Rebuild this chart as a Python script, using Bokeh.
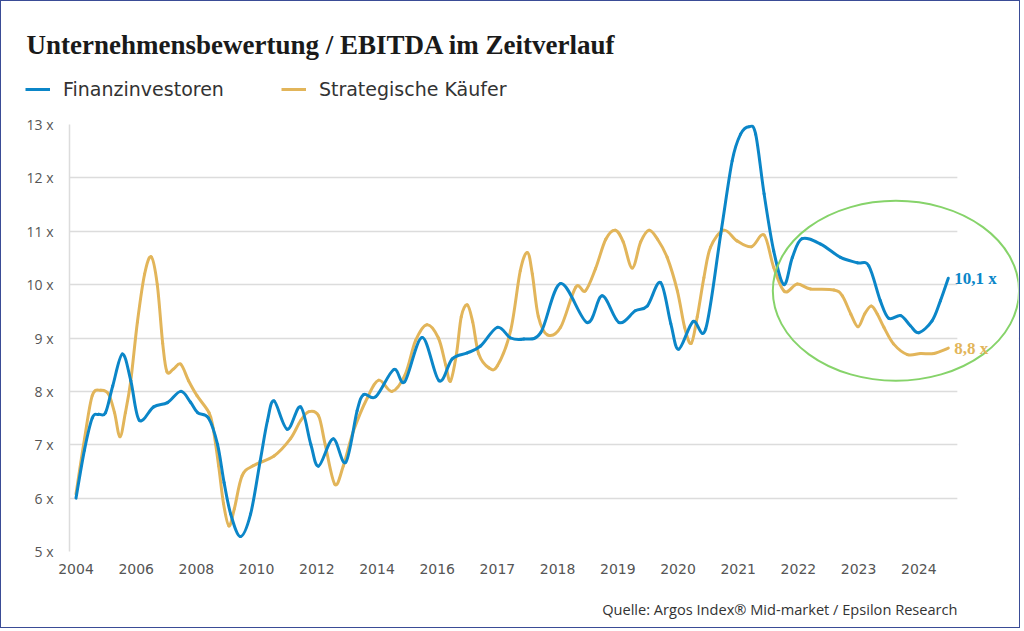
import numpy as np
from bokeh.plotting import figure
from bokeh.layouts import column
from bokeh.models import FixedTicker, Label, Legend, LegendItem, BoxAnnotation, Range1d
from bokeh.embed import file_html
from bokeh.resources import INLINE

# ---------------- data ----------------
tick_labels = ["2004", "2006", "2008", "2010", "2012", "2014", "2016", "2017",
               "2018", "2019", "2020", "2021", "2022", "2023", "2024"]
y_ticks = [5, 6, 7, 8, 9, 10, 11, 12, 13]

# x = position along the period axis (0 = 2004 label, 14 = 2024 label)
fin_x = [0.0, 0.14, 0.27, 0.37, 0.49, 0.61, 0.77, 0.91, 1.05, 1.29, 1.52, 1.74, 1.90, 2.02,
         2.20, 2.35, 2.46, 2.57, 2.73, 2.90, 3.06, 3.18, 3.29, 3.51, 3.73, 3.90, 4.03, 4.27,
         4.48, 4.67, 4.78, 4.98, 5.28, 5.46, 5.75, 6.03, 6.25, 6.50, 6.72, 7.00, 7.22, 7.44,
         7.72, 8.05, 8.49, 8.74, 9.02, 9.29, 9.49, 9.71, 9.88, 10.01, 10.25, 10.46, 10.71,
         10.90, 11.04, 11.18, 11.29, 11.43, 11.59, 11.76, 11.90, 12.06, 12.37,
         12.70, 12.98, 13.17, 13.36, 13.50, 13.70, 13.86, 14.00, 14.22, 14.36, 14.49]
fin_y = [6.0, 6.9, 7.5, 7.57, 7.6, 8.1, 8.7, 8.2, 7.46, 7.71, 7.79, 8.0, 7.8, 7.6,
         7.5, 7.01, 6.29, 5.7, 5.28, 5.7, 6.7, 7.45, 7.82, 7.29, 7.71, 7.01, 6.6, 7.11,
         6.67, 7.64, 7.94, 7.9, 8.41, 8.18, 9.01, 8.2, 8.61, 8.72, 8.85, 9.2, 9.0, 8.98,
         9.1, 10.02, 9.29, 9.79, 9.29, 9.51, 9.6, 10.04, 9.27, 8.79, 9.31, 9.17, 10.95,
         12.32, 12.82, 12.96, 12.82, 11.7, 10.63, 10.0, 10.51, 10.86, 10.76,
         10.51, 10.41, 10.35, 9.7, 9.37, 9.42, 9.23, 9.1, 9.32, 9.7, 10.12]

str_x = [0.0, 0.14, 0.27, 0.41, 0.54, 0.64, 0.73, 0.82, 0.91, 1.02, 1.14, 1.25, 1.35, 1.44,
         1.51, 1.62, 1.74, 1.87, 2.01, 2.21, 2.28, 2.37, 2.45, 2.54, 2.63, 2.76, 2.95, 3.29,
         3.56, 3.73, 3.87, 4.03, 4.14, 4.30, 4.44, 4.61, 4.84, 5.03, 5.25, 5.47, 5.64, 5.83,
         6.02, 6.14, 6.22, 6.32, 6.40, 6.50, 6.59, 6.69, 6.86, 7.00, 7.22, 7.38, 7.50, 7.58,
         7.68, 7.83, 8.05, 8.30, 8.46, 8.63, 8.80, 8.96, 9.09, 9.24, 9.38, 9.52, 9.66, 9.82,
         9.99, 10.11, 10.22, 10.32, 10.43, 10.54, 10.76, 10.98, 11.22, 11.43, 11.59, 11.77,
         11.98, 12.20, 12.59, 12.73, 12.87, 12.99, 13.10, 13.21, 13.31, 13.42, 13.58, 13.81,
         14.03, 14.25, 14.49]
str_y = [6.08, 7.1, 7.92, 8.02, 7.95, 7.6, 7.15, 7.6, 8.2, 9.3, 10.2, 10.52, 10.0, 8.9,
         8.37, 8.42, 8.51, 8.2, 7.92, 7.6, 7.3, 6.6, 5.9, 5.48, 5.8, 6.42, 6.61, 6.79,
         7.11, 7.45, 7.62, 7.54, 7.0, 6.26, 6.6, 7.26, 7.88, 8.21, 8.0, 8.32, 8.95, 9.25,
         9.0, 8.5, 8.19, 8.7, 9.4, 9.62, 9.3, 8.7, 8.44, 8.48, 9.14, 10.26, 10.6, 10.2,
         9.4, 9.06, 9.2, 9.95, 9.88, 10.3, 10.85, 11.02, 10.8, 10.31, 10.8, 11.02, 10.85, 10.51,
         9.88, 9.2, 8.9, 9.4, 10.13, 10.7, 11.02, 10.82, 10.71, 10.93, 10.32, 9.87,
         10.01, 9.92, 9.9, 9.79, 9.45, 9.21, 9.45, 9.6, 9.45, 9.2, 8.89, 8.69,
         8.71, 8.71, 8.81]

fin_name = "Finanzinvestoren"
str_name = "Strategische Käufer"
fin_end_label = "10,1 x"
str_end_label = "8,8 x"
title_text = "Unternehmensbewertung / EBITDA im Zeitverlauf"
source_text = "Quelle: Argos Index® Mid-market / Epsilon Research"

# highlight ellipse around the recent period (data units)
hl_cx, hl_cy, hl_w, hl_h = 13.62, 9.885, 4.09, 3.37
grid_end_x = 14.64   # grid lines stop here; the frame continues for the highlight

# ---------------- styling ----------------
BLUE = "#0b86c8"
GOLD = "#e2b55a"
GREEN = "#86d36a"
GRID = "#dcdcdc"
SANS = "Open Sans"
WIDE = "DejaVu Sans"
SERIF = "Liberation Serif"

W = 1018
H_HEAD, H_MAIN, H_FOOT = 109, 475, 42


def no_align(f):
    try:
        f.frame_align = False
    except Exception:
        pass


def blank(height):
    f = figure(width=W, height=height, output_backend="svg", toolbar_location=None,
               x_range=Range1d(0, W), y_range=Range1d(height, 0),
               x_axis_type=None, y_axis_type=None,
               min_border_left=0, min_border_right=0, min_border_top=0, min_border_bottom=0)
    f.outline_line_color = None
    f.background_fill_color = "white"
    f.border_fill_color = "white"
    no_align(f)
    return f


def smooth_segments(x, y):
    """Catmull-Rom control points so the drawn line passes smoothly through every point."""
    xs, ys = np.asarray(x, float), np.asarray(y, float)
    n = len(xs)
    xp = np.concatenate([[xs[0]], xs, [xs[-1]]])
    yp = np.concatenate([[ys[0]], ys, [ys[-1]]])
    return dict(x0=xs[:-1], y0=ys[:-1], x1=xs[1:], y1=ys[1:],
                cx0=xp[1:n] + (xp[2:n + 1] - xp[0:n - 1]) / 6.0,
                cy0=yp[1:n] + (yp[2:n + 1] - yp[0:n - 1]) / 6.0,
                cx1=xp[2:n + 1] - (xp[3:n + 2] - xp[1:n]) / 6.0,
                cy1=yp[2:n + 1] - (yp[3:n + 2] - yp[1:n]) / 6.0)


# ---------- header: title + legend ----------
head = blank(H_HEAD)
head.add_layout(Label(x=25, y=43, text=title_text, text_font=SERIF, text_font_style="bold",
                      text_font_size="27px", text_color="#1a1a1a", text_baseline="alphabetic"))
nan = float("nan")
lr_fin = head.line([nan], [nan], line_color=BLUE, line_width=3)
lr_str = head.line([nan], [nan], line_color=GOLD, line_width=3)
legend = Legend(items=[LegendItem(label=fin_name, renderers=[lr_fin]),
                       LegendItem(label=str_name, renderers=[lr_str])],
                location=(24, 10), orientation="horizontal",
                padding=0, margin=0, spacing=57, glyph_width=25, glyph_height=20,
                label_standoff=13, label_text_font=WIDE, label_text_font_size="19px",
                label_text_color="#333333", border_line_color=None, background_fill_alpha=0)
head.add_layout(legend)

# ---------- main chart ----------
p = figure(width=W, height=H_MAIN, output_backend="svg", toolbar_location=None,
           x_range=Range1d(-0.108, 15.656), y_range=Range1d(5, 13),
           min_border_left=68, min_border_right=1, min_border_top=14, min_border_bottom=34)
no_align(p)
p.outline_line_color = None
p.background_fill_color = "white"
p.border_fill_color = "white"

p.xgrid.visible = False
p.ygrid.grid_line_color = GRID
p.ygrid.grid_line_width = 1.5
p.ygrid.ticker = FixedTicker(ticks=y_ticks)

p.yaxis.ticker = FixedTicker(ticks=y_ticks)
p.yaxis.major_label_overrides = {v: f"{v} x" for v in y_ticks}
p.yaxis.axis_line_color = GRID
p.yaxis.axis_line_width = 1.5
p.yaxis.major_tick_line_color = None
p.yaxis.minor_tick_line_color = None
p.yaxis.major_tick_out = 0
p.yaxis.major_tick_in = 0
p.yaxis.major_label_standoff = 16
p.yaxis.major_label_text_font = SANS
p.yaxis.major_label_text_font_size = "14px"
p.yaxis.major_label_text_color = "#555555"

p.xaxis.ticker = FixedTicker(ticks=list(range(len(tick_labels))))
p.xaxis.major_label_overrides = {i: t for i, t in enumerate(tick_labels)}
p.xaxis.axis_line_color = None
p.xaxis.major_tick_line_color = None
p.xaxis.minor_tick_line_color = None
p.xaxis.major_tick_out = 0
p.xaxis.major_tick_in = 0
p.xaxis.major_label_standoff = 12
p.xaxis.major_label_text_font = WIDE
p.xaxis.major_label_text_font_size = "14px"
p.xaxis.major_label_text_color = "#555555"

# stop the grid lines where the reference's grid ends
p.add_layout(BoxAnnotation(left=grid_end_x, fill_color="white", fill_alpha=1.0,
                           line_color=None, level="underlay"))

p.bezier(line_color=GOLD, line_width=3, line_cap="round", **smooth_segments(str_x, str_y))
p.bezier(line_color=BLUE, line_width=3, line_cap="round", **smooth_segments(fin_x, fin_y))

p.ellipse(x=[hl_cx], y=[hl_cy], width=[hl_w], height=[hl_h], fill_color=None,
          line_color=GREEN, line_width=2)

p.add_layout(Label(x=fin_x[-1], y=fin_y[-1], text=fin_end_label, x_offset=6,
                   text_font=SERIF, text_font_style="bold", text_font_size="17px",
                   text_color=BLUE, text_baseline="alphabetic"))
p.add_layout(Label(x=str_x[-1], y=str_y[-1], text=str_end_label, x_offset=6,
                   text_font=SERIF, text_font_style="bold", text_font_size="17px",
                   text_color=GOLD, text_baseline="alphabetic"))

# ---------- footer: source ----------
foot = blank(H_FOOT)
foot.add_layout(Label(x=956, y=23, text=source_text, text_font=SANS, text_font_size="14.6px",
                      text_color="#333333", text_align="right", text_baseline="alphabetic"))

page = column(head, p, foot, spacing=0)
page.styles = {"border": "1px solid #3a4c96"}

open("out.html", "w").write(file_html(page, INLINE))
